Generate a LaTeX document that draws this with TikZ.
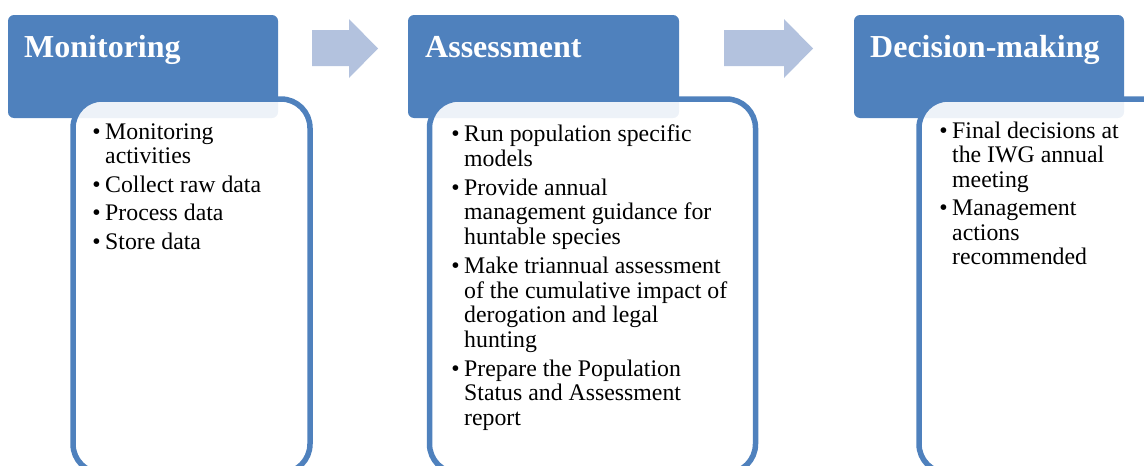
\documentclass[tikz,border=0pt]{standalone}
\usepackage{fontspec}
\setmainfont{Liberation Serif}
\definecolor{hdrblue}{HTML}{4F81BD}
\definecolor{arrowblue}{HTML}{B3C2DE}
\newcommand{\bul}{\llap{\textbullet\hspace{4.5pt}}}
\begin{document}
\begin{tikzpicture}[x=1pt,y=-1pt,
  header/.style={rectangle, fill=hdrblue, rounded corners=6pt, outer sep=0pt,
                 inner sep=0pt, anchor=north west},
  panel/.style={rectangle, draw=hdrblue, line width=5.5pt, fill=white,
                fill opacity=0.9, rounded corners=29pt, outer sep=0pt,
                inner sep=0pt, anchor=north west},
  title/.style={anchor=base west, inner sep=0pt, text=white,
                font=\fontsize{32}{36}\selectfont\bfseries},
  % multi-line lists are placed by the baseline of their last line
  body/.style={anchor=base west, inner sep=0pt, align=left,
               font=\fontsize{23.8}{24.3}\selectfont},
  flow/.style={fill=arrowblue}]
\useasboundingbox (0,0) rectangle (1144,466);
\clip (0,0) rectangle (1144,466);

% stage headers
\node[header, minimum width=270pt, minimum height=103pt] (h1) at (8,15) {};
\node[header, minimum width=271pt, minimum height=103pt] (h2) at (408,15) {};
\node[header, minimum width=270pt, minimum height=103pt] (h3) at (854,15) {};

\node[title] (t1) at (24,57) {Monitoring};
\node[title] (t2) at (425,57) {Assessment};
\node[title] (t3) at (870,57) {Decision-making};

% task panels, partly over the headers
\node[panel, minimum width=237pt, minimum height=374pt] (p1) at (73,99) {};
\node[panel, minimum width=326pt, minimum height=374pt] (p2) at (429.5,99) {};
\node[panel, minimum width=251pt, minimum height=374pt] (p3) at (919,99) {};

% flow arrows between the stages
\fill[flow] (312,30) -- (349,30) -- (349,19) -- (378,48.5) -- (349,78)
  -- (349,66) -- (312,66) -- cycle;
\fill[flow] (724,30) -- (784,30) -- (784,19) -- (813,48.5) -- (784,78)
  -- (784,66) -- (724,66) -- cycle;

% task lists
\node[body] (b1) at (105,249.5) {\bul Monitoring\\activities\\[4.3pt]
  \bul Collect raw data\\[4.3pt]
  \bul Process data\\[4.3pt]
  \bul Store data};
\node[body, font=\fontsize{23.8}{24.6}\selectfont] (b2) at (464,425.5)
  {\bul Run population specific\\models\\[4.5pt]
  \bul Provide annual\\management guidance for\\huntable species\\[4.5pt]
  \bul Make triannual assessment\\of the cumulative impact of\\derogation and legal\\hunting\\[4.5pt]
  \bul Prepare the Population\\Status and Assessment\\report};
\node[body] (b3) at (952,264.5) {\bul Final decisions at\\the IWG annual\\meeting\\[4.5pt]
  \bul Management\\actions\\recommended};
\end{tikzpicture}
\end{document}
